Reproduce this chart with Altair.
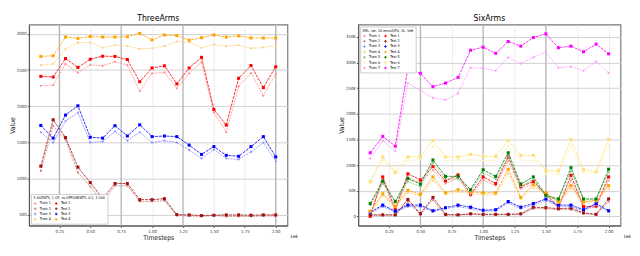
import altair as alt
import pandas as pd

steps = [0.1, 0.2, 0.3, 0.4, 0.5, 0.6, 0.7, 0.8, 0.9, 1.0,
         1.1, 1.2, 1.3, 1.4, 1.5, 1.6, 1.7, 1.8, 1.9, 2.0]
x_ticks = [0.25, 0.5, 0.75, 1.0, 1.25, 1.5, 1.75, 2.0]

# ---- ThreeArms ----
three_train_1 = [2283, 2291, 2585, 2464, 2572, 2559, 2615, 2568, 2209, 2455, 2468, 2248, 2455, 2611, 1912, 1640, 2274, 2459, 2145, 2446]
three_test_1 = [2413, 2404, 2659, 2537, 2650, 2692, 2689, 2646, 2339, 2529, 2559, 2309, 2529, 2676, 1954, 1739, 2387, 2563, 2257, 2546]
three_train_2 = [1105, 1726, 1536, 1083, 888, 668, 901, 901, 681, 681, 694, 487, 481, 474, 487, 474, 474, 474, 481, 481]
three_test_2 = [1170, 1812, 1566, 1157, 944, 724, 931, 931, 707, 707, 720, 500, 496, 487, 491, 496, 496, 491, 496, 496]
three_train_3 = [1640, 1497, 1795, 1912, 1497, 1510, 1653, 1523, 1640, 1497, 1523, 1497, 1394, 1277, 1400, 1277, 1264, 1368, 1497, 1238]
three_test_3 = [1734, 1558, 1877, 2006, 1571, 1558, 1730, 1588, 1743, 1579, 1588, 1579, 1462, 1333, 1441, 1320, 1307, 1441, 1579, 1299]
three_train_4 = [2568, 2585, 2792, 2879, 2883, 2809, 2844, 2831, 2792, 2801, 2831, 2896, 2887, 2809, 2853, 2831, 2844, 2801, 2814, 2840]
three_test_4 = [2689, 2698, 2957, 2939, 2964, 2957, 2957, 2961, 3008, 2918, 2986, 2977, 2913, 2948, 2986, 2957, 2973, 2944, 2944, 2944]
three_y_ticks = [500, 1000, 1500, 2000, 2500, 3000]
three_major_x = [0.25, 0.75, 1.25, 2.0]

# ---- SixArms (values in thousands) ----
six_train_1 = [2, 70, 10, 76, 66, 90, 64, 75, 40, 71, 60, 108, 54, 63, 42, 15, 70, 16, 18, 70]
six_test_1 = [0, 77, 13, 83, 71, 97, 69, 81, 43, 77, 64, 116, 58, 68, 44, 18, 80, 19, 20, 77]
six_train_2 = [2, 2, 2, 28, 4, 32, 2, 2, 4, 3, 3, 3, 4, 15, 15, 13, 13, 5, 3, 29]
six_test_2 = [3, 3, 3, 33, 5, 37, 4, 3, 5, 4, 4, 4, 5, 18, 17, 15, 16, 7, 4, 34]
six_train_3 = [6, 19, 8, 19, 19, 9, 15, 19, 15, 10, 11, 26, 15, 22, 31, 19, 19, 11, 22, 9]
six_test_3 = [8, 22, 10, 22, 22, 11, 17, 22, 18, 12, 13, 29, 18, 25, 34, 22, 22, 13, 25, 11]
six_train_4 = [8, 40, 18, 46, 40, 70, 43, 48, 44, 42, 42, 84, 34, 56, 43, 26, 54, 26, 29, 54]
six_test_4 = [10, 44, 20, 51, 43, 77, 46, 52, 48, 46, 46, 92, 37, 62, 46, 28, 60, 28, 31, 60]
six_train_5 = [22, 64, 27, 68, 58, 104, 73, 73, 49, 85, 73, 116, 58, 72, 38, 32, 88, 32, 32, 86]
six_test_5 = [25, 69, 29, 74, 63, 110, 78, 78, 52, 91, 78, 124, 63, 77, 41, 34, 95, 34, 34, 92]
six_train_6 = [64, 110, 83, 109, 111, 136, 109, 110, 110, 109, 109, 136, 110, 109, 83, 83, 137, 85, 85, 137]
six_test_6 = [68, 116, 86, 116, 117, 148, 116, 116, 121, 117, 117, 148, 119, 119, 89, 89, 150, 91, 87, 150]
six_train_7 = [113, 147, 127, 260, 246, 231, 227, 240, 290, 289, 284, 310, 298, 310, 321, 290, 292, 284, 302, 280]
six_test_7 = [124, 156, 137, 289, 279, 253, 260, 271, 324, 330, 318, 341, 332, 349, 356, 329, 332, 321, 336, 317]
six_y_ticks = [0, 50, 100, 150, 200, 250, 300, 350]
six_major_x = [0.5, 1.0, 1.5]

light = ["#ff8c8c", "#c98080", "#8c8cff", "#ffcf80", "#80c080", "#fff0b0", "#ff99ff"]
dark = ["#ff0000", "#a01010", "#0000ff", "#ffa500", "#008000", "#ffdf70", "#ff00ff"]

FONT = "Liberation Sans Narrow, DejaVu Sans Condensed, sans-serif"


def build(series_train, series_test):
    rows = []
    dom_tr, dom_te, rng_tr, rng_te = [], [], [], []
    for i, (tr, te) in enumerate(zip(series_train, series_test)):
        k = i + 1
        for kind, vals in (("Train", tr), ("Test", te)):
            name = f"{kind} {k}"
            for s, v in zip(steps, vals):
                rows.append({"step": s, "value": v, "series": name, "kind": kind})
        dom_tr.append(f"Train {k}")
        rng_tr.append(light[i])
        dom_te.append(f"Test {k}")
        rng_te.append(dark[i])
    # legend fills column by column: Train column, then Test column
    return pd.DataFrame(rows), dom_tr + dom_te, rng_tr + rng_te


def panel(df, domain, rng, title, ydom, yticks, ylabel_expr, majors, legend_orient,
          legend_title, w, h):
    xscale = alt.Scale(domain=[0.005, 2.095], nice=False, zero=False)
    xaxis = alt.Axis(values=x_ticks, format=".2f", title="Timesteps",
                     gridColor="#ececec", labelOverlap=False, titleColor="#222222")
    xenc = alt.X("step:Q", scale=xscale, axis=xaxis)
    yenc = alt.Y("value:Q", scale=alt.Scale(domain=ydom, nice=False, zero=False),
                 axis=alt.Axis(values=yticks, title="Value", labelExpr=ylabel_expr,
                               gridColor="#cfcfcf", labelOverlap=False,
                               titleColor="#222222"))
    legend = alt.Legend(title=legend_title, orient=legend_orient, columns=2,
                        symbolType="cross", symbolSize=7, symbolStrokeWidth=0,
                        labelFontSize=3.8, titleFontSize=3.8, labelOffset=3,
                        titleFontWeight="normal", rowPadding=0.6, titlePadding=1.5,
                        columnPadding=3, padding=2.5, offset=2,
                        strokeColor="#cccccc", fillColor="white",
                        labelFont=FONT, titleFont=FONT)
    color = alt.Color("series:N", scale=alt.Scale(domain=domain, range=rng), legend=legend)
    base = alt.Chart(df)
    rules = alt.Chart(pd.DataFrame({"m": majors})).mark_rule(
        color="#b0b0b0", strokeWidth=1.2).encode(x=alt.X("m:Q", scale=xscale, axis=xaxis))
    lines = base.mark_line(strokeWidth=0.9, opacity=0.95).encode(
        x=xenc, y=yenc, color=color,
        strokeDash=alt.StrokeDash("kind:N", scale=alt.Scale(domain=["Train", "Test"],
                                                           range=[[2, 1], [3, 1]]), legend=None),
        detail="series:N")
    pts = base.mark_point(filled=True, opacity=1).encode(
        x=xenc, y=yenc, color=color,
        shape=alt.Shape("kind:N", scale=alt.Scale(domain=["Train", "Test"],
                                                  range=["circle", "square"]), legend=None),
        size=alt.Size("kind:N", scale=alt.Scale(domain=["Train", "Test"], range=[5, 10]),
                      legend=None))
    off = alt.Chart(pd.DataFrame({"t": ["1e6"]})).mark_text(
        fontSize=4.5, align="left", font=FONT).encode(
        text="t:N", x=alt.value(w + 3), y=alt.value(h + 12))
    return alt.layer(rules, lines, pts, off).properties(
        width=w, height=h,
        title=alt.TitleParams(title, fontSize=9, fontWeight="normal", offset=1, font=FONT))


df3, d3, r3 = build([three_train_1, three_train_2, three_train_3, three_train_4],
                    [three_test_1, three_test_2, three_test_3, three_test_4])
df6, d6, r6 = build([six_train_1, six_train_2, six_train_3, six_train_4, six_train_5, six_train_6, six_train_7],
                    [six_test_1, six_test_2, six_test_3, six_test_4, six_test_5, six_test_6, six_test_7])

left = panel(df3, d3, r3, "ThreeArms", [348, 3129], three_y_ticks, "format(datum.value, 'd')",
             three_major_x, "bottom-left", "3 AGENTS, 1 OF, vs OPPONENTS, 0.1, 1 000", 270, 210)
right = panel(df6, d6, r6, "SixArms", [-18, 374], six_y_ticks,
              "datum.value == 0 ? '0' : datum.value + 'K'",
              six_major_x, "top-left", "DRL, rdr, 10 envs/GPU, 2k, 1e8", 274, 210)

chart = alt.hconcat(left, right, spacing=40).resolve_scale(
    color="independent", shape="independent", size="independent", strokeDash="independent"
).resolve_legend(color="independent").properties(
    padding={"left": 0, "top": 0, "right": 0, "bottom": 0}
).configure_axis(
    labelFontSize=4.5, titleFontSize=7, titleFontWeight="normal", labelFont=FONT,
    titleFont=FONT, domainColor="#555555", tickColor="#555555", labelColor="#333333",
    tickSize=2, labelPadding=1, titlePadding=1
).configure_view(stroke="#777777", strokeWidth=1.2)

chart.save("out.html", embed_options={"renderer": "svg", "actions": False})
